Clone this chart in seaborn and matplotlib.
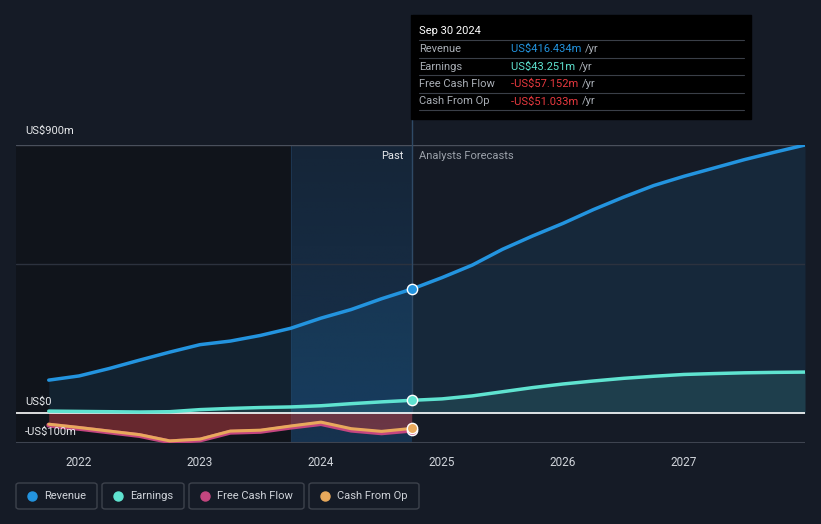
import matplotlib
matplotlib.use("Agg")
import matplotlib.pyplot as plt
from matplotlib.patches import FancyBboxPatch, Rectangle
from matplotlib.lines import Line2D
import seaborn as sns
import numpy as np
import pandas as pd

# data (US$ m) ---------------------------------------------------------------
past_t = [2021.75, 2022.0, 2022.25, 2022.5, 2022.75, 2023.0, 2023.25, 2023.5,
          2023.75, 2024.0, 2024.25, 2024.5, 2024.75]
revenue_past = [111, 125, 150, 178, 205, 230, 242, 261, 285, 319, 348, 384, 416.434]
earnings_past = [7, 6, 5, 4, 5, 12, 16, 19, 21, 25, 32, 38, 43.251]
fcf_past = [-40, -51, -63, -75, -96, -90, -64, -61, -47, -35, -57, -66, -57.152]
cfo_past = [-37, -48, -60, -72, -93, -87, -60, -57, -43, -30, -52, -61, -51.033]

fc_t = [2024.75, 2025.0, 2025.25, 2025.5, 2025.75, 2026.0, 2026.25, 2026.5,
        2026.75, 2027.0, 2027.25, 2027.5, 2027.75, 2028.0]
revenue_fc = [416.434, 455, 497, 550, 595, 637, 683, 725, 764, 795, 823, 851, 876, 900]
earnings_fc = [43.251, 48, 58, 72, 86, 98, 108, 117, 124, 130, 133, 135.5, 137, 138]

years = [2022, 2023, 2024, 2025, 2026, 2027]

BG = "#151b26"
C_REV = "#2394df"
C_EARN = "#5fe3d0"
C_FCF = "#c4467f"
C_CFO = "#e8a95c"

sns.set_theme(style="dark")
plt.rcParams['font.family'] = ['Roboto', 'DejaVu Sans']

fig = plt.figure(figsize=(8.21, 5.24), dpi=100, facecolor=BG)
W, H = 821, 524
ax = fig.add_axes([16 / W, (H - 443) / H, (805 - 16) / W, (443 - 145) / H])
ax.set_facecolor(BG)

x0 = 2022 - 63 / 121
ax.set_xlim(x0, 2028.0)
ax.set_ylim(-100, 900)

# background bands
ax.axvspan(x0, 2023.75, color="#10141b", zorder=0)
grad = np.zeros((100, 1, 4))
grad[..., :3] = matplotlib.colors.to_rgb("#17395a")
grad[:, 0, 3] = np.linspace(0.35, 0.8, 100)
ax.imshow(grad, extent=[2023.75, 2024.75, -100, 900], origin="upper",
          aspect="auto", zorder=0)
ax.axvline(2023.75, color="#1c3550", lw=0.8, zorder=0.5)

rev = pd.DataFrame({"t": past_t + fc_t[1:], "v": revenue_past + revenue_fc[1:]})
earn = pd.DataFrame({"t": past_t + fc_t[1:], "v": earnings_past + earnings_fc[1:]})
fcf = pd.DataFrame({"t": past_t, "v": fcf_past})
cfo = pd.DataFrame({"t": past_t, "v": cfo_past})

# fills
ax.fill_between(rev["t"], rev["v"], 0, color=C_REV, alpha=0.11, lw=0, zorder=1)
ax.fill_between(earn["t"], earn["v"], 0, color=C_EARN, alpha=0.12, lw=0, zorder=1)
ax.fill_between(fcf["t"], fcf["v"], 0, color="#b03a3e", alpha=0.55, lw=0, zorder=1)

# grid lines
ax.axhline(900, color="#4a505c", lw=1, zorder=1)
ax.axhline(500, color="#2c323e", lw=1, zorder=1)
ax.axhline(0, color="white", lw=1.2, zorder=3)
ax.axhline(-100, color="#3e4450", lw=1.5, zorder=1)

sns.lineplot(data=rev, x="t", y="v", ax=ax, color=C_REV, lw=2.5, zorder=4)
sns.lineplot(data=earn, x="t", y="v", ax=ax, color=C_EARN, lw=2.5, zorder=4)
sns.lineplot(data=fcf, x="t", y="v", ax=ax, color=C_FCF, lw=3.5, zorder=4)
sns.lineplot(data=cfo, x="t", y="v", ax=ax, color=C_CFO, lw=2.2, zorder=5)

for v, c in [(revenue_past[-1], C_REV), (earnings_past[-1], C_EARN),
             (fcf_past[-1], C_FCF), (cfo_past[-1], C_CFO)]:
    ax.scatter([2024.75], [v], s=55, color=c, edgecolor="white", lw=1, zorder=6)

# vertical marker line up to tooltip
ax.axvline(2024.75, ymin=0.1, ymax=(443 - 15) / 298, color="#2f4a66", lw=1,
           clip_on=False, zorder=2)

ax.set_xticks(years)
ax.set_xticklabels([str(y) for y in years], color="#d0d4da", fontsize=8.5)
ax.set_yticks([])
ax.set_xlabel("")
ax.set_ylabel("")
ax.tick_params(axis="x", length=0, pad=9)
for s in ax.spines.values():
    s.set_visible(False)

# y labels
fig.text(25 / W, 1 - 131 / H, "US$900m", color="#e6e8eb", fontsize=8, va="center")
fig.text(25 / W, 1 - 402 / H, "US$0", color="#e6e8eb", fontsize=8, va="center")
fig.text(25 / W, 1 - 432 / H, "-US$100m", color="#e6e8eb", fontsize=8, va="center")

fig.text(403 / W, 1 - 156 / H, "Past", color="#e6e8eb", fontsize=8, ha="right", va="center")
fig.text(419 / W, 1 - 156 / H, "Analysts Forecasts", color="#9ba1aa", fontsize=8, va="center")

# tooltip
fig.patches.append(Rectangle((411 / W, 1 - 119 / H), 340 / W, 104 / H,
                             transform=fig.transFigure, color="black", zorder=10))
fig.text(419 / W, 1 - 31 / H, "Sep 30 2024", color="white", fontsize=8, va="center", zorder=11)
rows = [("Revenue", "US$416.434m", C_REV), ("Earnings", "US$43.251m", C_EARN),
        ("Free Cash Flow", "-US$57.152m", "#e8393f"),
        ("Cash From Op", "-US$51.033m", "#e8393f")]
for i, (name, val, c) in enumerate(rows):
    yy = 49 + i * 17.5
    fig.add_artist(Line2D([419 / W, 744 / W], [1 - (yy - 9) / H, 1 - (yy - 9) / H],
                          color="#3a3f48", lw=0.8, zorder=11))
    fig.text(419 / W, 1 - yy / H, name, color="#a9aeb5", fontsize=8, va="center", zorder=11)
    fig.text(511 / W, 1 - yy / H, val + " ", color=c, fontsize=8, va="center", zorder=11)
    fig.text(511 / W, 1 - yy / H, " " * len(val) + "  /yr", color="#a9aeb5", fontsize=8,
             va="center", zorder=11, alpha=0)
    # place "/yr" after the rendered value text
    fig.canvas.draw()
    bb = fig.texts[-2].get_window_extent()
    fig.texts[-1].remove()
    fig.text((bb.x1 + 1) / W, 1 - yy / H, "/yr", color="#a9aeb5", fontsize=8,
             va="center", zorder=11)
fig.add_artist(Line2D([419 / W, 744 / W], [1 - 110 / H, 1 - 110 / H],
                      color="#3a3f48", lw=0.8, zorder=11))

# legend boxes
legend = [("Revenue", C_REV, 16, 97), ("Earnings", C_EARN, 102, 184),
          ("Free Cash Flow", C_FCF, 189, 304), ("Cash From Op", C_CFO, 309, 419)]
for name, c, xa, xb in legend:
    fig.patches.append(FancyBboxPatch((xa / W, 1 - 509 / H), (xb - xa) / W, 26 / H,
                                      boxstyle="round,pad=0,rounding_size=0.004",
                                      transform=fig.transFigure, facecolor="none",
                                      edgecolor="#3d424c", lw=1))
    fig.add_artist(Line2D([(xa + 16) / W], [1 - 496 / H], marker="o", markersize=6.5,
                          color=c, lw=0))
    fig.text((xa + 28) / W, 1 - 496 / H, name, color="#d0d4da", fontsize=8, va="center")

fig.savefig("out.png", dpi=100, facecolor=BG)
